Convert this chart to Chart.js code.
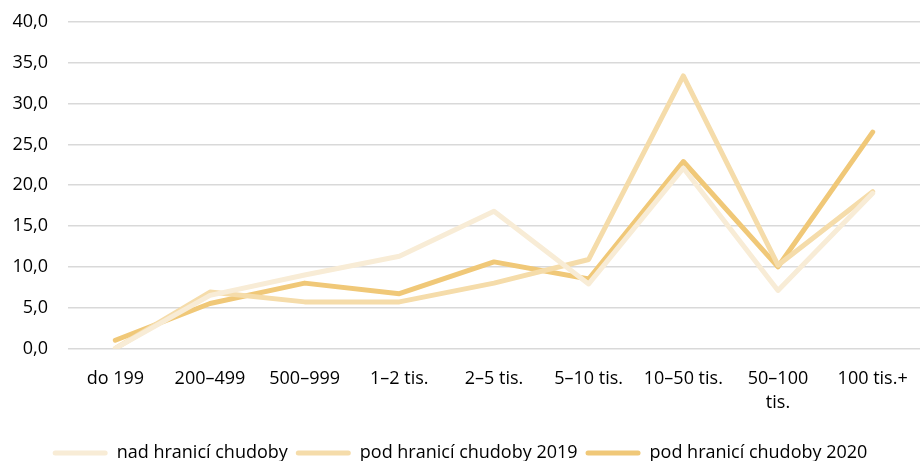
<!DOCTYPE html>
<html>
<head>
<meta charset="utf-8">
<script src="https://cdn.jsdelivr.net/npm/chart.js@4/dist/chart.umd.min.js"></script>
<style>
  html, body { margin: 0; padding: 0; background: #fff; }
  #wrap { width: 920px; height: 461px; position: relative; }
</style>
</head>
<body>
<div id="wrap"><canvas id="mainChart"></canvas></div>
<script>
const categories = ['do 199', '200–499', '500–999', '1–2 tis.', '2–5 tis.', '5–10 tis.', '10–50 tis.', ['50–100', 'tis.'], '100 tis.+'];
const nadHranici = [0.0, 6.5, 9.0, 11.3, 16.8, 7.9, 22.1, 7.1, 19.0];
const podHranici2019 = [0.0, 6.9, 5.7, 5.7, 8.0, 10.9, 33.4, 10.2, 19.2];
const podHranici2020 = [1.0, 5.5, 8.0, 6.7, 10.6, 8.5, 22.9, 10.0, 26.5];
const yTicks = [0, 5, 10, 15, 20, 25, 30, 35, 40];

const fontFamily = "'Open Sans', sans-serif";

const ctx = document.getElementById('mainChart').getContext('2d');

new Chart(ctx, {
    type: 'line',
    data: {
        labels: categories,
        datasets: [
            { label: 'nad hranicí chudoby', data: nadHranici, borderColor: '#f8ecd6', backgroundColor: '#f8ecd6' },
            { label: 'pod hranicí chudoby 2019', data: podHranici2019, borderColor: '#f5dcaa', backgroundColor: '#f5dcaa' },
            { label: 'pod hranicí chudoby 2020', data: podHranici2020, borderColor: '#f0c878', backgroundColor: '#f0c878' }
        ]
    },
    options: {
        responsive: true,
        maintainAspectRatio: false,
        animation: false,
        elements: {
            line: { borderWidth: 5, tension: 0, borderCapStyle: 'round', borderJoinStyle: 'round' },
            point: { radius: 0, hoverRadius: 0 }
        },
        layout: { padding: { top: 22, right: 0, bottom: -11, left: 0 } },
        scales: {
            x: {
                offset: true,
                grid: { display: false },
                border: { display: false },
                afterFit: (axis) => { axis.height += 11; },
                ticks: {
                    color: '#000',
                    font: { family: fontFamily, size: 18, lineHeight: 1.35 },
                    maxRotation: 0,
                    autoSkip: false,
                    padding: 10
                }
            },
            y: {
                min: 0,
                max: 40,
                afterFit: (axis) => { axis.width = 68; axis.paddingTop = 0; axis.paddingBottom = 0; },
                afterBuildTicks: (axis) => { axis.ticks = yTicks.map(v => ({ value: v })); },
                grid: { color: '#d9d9d9', lineWidth: 1.5, drawTicks: false },
                border: { display: false },
                ticks: {
                    color: '#000',
                    font: { family: fontFamily, size: 18 },
                    padding: 20,
                    callback: (v) => v.toFixed(1).replace('.', ',')
                }
            }
        },
        plugins: {
            legend: {
                position: 'bottom',
                labels: {
                    color: '#000',
                    font: { family: fontFamily, size: 18 },
                    boxWidth: 55,
                    boxHeight: 5,
                    padding: 8,
                    generateLabels: (chart) => {
                        const items = Chart.defaults.plugins.legend.labels.generateLabels(chart);
                        items.forEach(it => { it.lineWidth = 0; it.borderRadius = 2.5; });
                        return items;
                    }
                }
            },
            tooltip: { enabled: false }
        }
    }
});
</script>
</body>
</html>
